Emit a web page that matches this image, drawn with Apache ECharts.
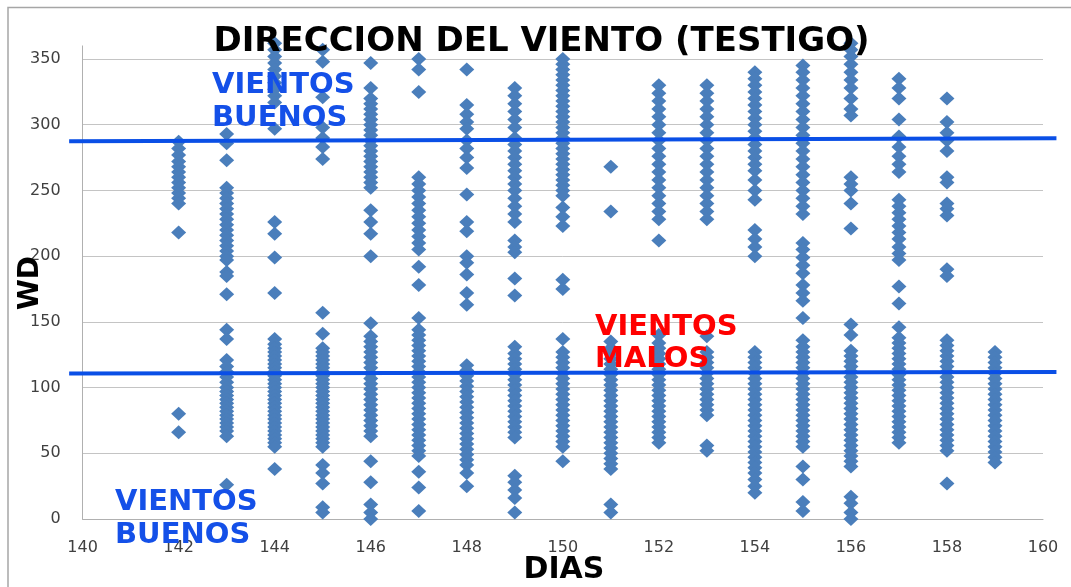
<!DOCTYPE html>
<html>
<head>
<meta charset="utf-8">
<script src="https://cdn.jsdelivr.net/npm/echarts@6/dist/echarts.min.js"></script>
<style>
html,body{margin:0;padding:0;background:#fff;}
#c{width:1071px;height:587px;}
</style>
</head>
<body>
<div id="c"></div>
<script>
// ---- Data ----
const days = [142,143,144,145,146,147,148,149,150,151,152,153,154,155,156,157,158,159];
const d142 = [287,282,277,272,268,264,260,256,252,248,244,240,218,80,66];
const d143 = [293,286,273,252,248,244,240,236,232,228,224,220,216,212,208,204,200,197,188,185,171,144,137,121,116,112,108,104,100,97,94,91,88,85,82,79,76,73,70,67,63,26];
const d144 = [362,357,352,347,342,337,332,327,322,317,297,226,217,199,172,137,133,130,127,124,121,118,115,112,109,106,103,100,97,94,91,88,85,82,79,76,73,70,67,64,61,58,55,38];
const d145 = [357,348,321,298,290,283,274,157,141,130,127,124,121,118,115,112,109,106,103,100,97,94,91,88,85,82,79,76,73,70,67,64,61,58,55,41,35,27,9,5];
const d146 = [347,328,320,316,312,308,304,300,296,292,288,284,280,276,272,268,264,260,256,252,235,226,217,200,149,139,135,131,127,123,119,115,111,107,103,99,95,91,87,83,79,75,71,67,63,44,28,11,5,0];
const d147 = [350,342,325,260,255,250,245,240,235,230,225,220,215,210,205,192,178,153,144,140,136,132,128,124,120,116,112,108,104,100,96,92,88,84,80,76,72,68,64,60,56,52,48,36,24,6];
const d148 = [342,315,308,302,297,288,282,275,267,247,226,219,200,195,186,172,163,117,113,109,105,101,97,93,89,85,81,77,73,69,65,61,57,53,49,45,41,35,25];
const d149 = [328,322,316,310,304,298,290,285,280,275,270,265,260,255,250,244,238,232,226,212,207,203,183,170,131,126,122,118,114,110,106,102,98,94,90,86,82,78,74,70,66,62,33,28,22,16,5];
const d150 = [350,346,342,338,334,330,326,322,318,314,310,306,302,298,294,290,286,282,278,274,270,266,262,258,254,250,246,237,230,223,182,175,137,127,123,119,115,111,107,103,99,95,91,87,83,79,75,71,67,63,59,55,44];
const d151 = [268,234,135,130,126,122,118,114,110,106,102,98,94,90,86,82,78,74,70,66,62,58,54,50,46,42,38,11,5];
const d152 = [330,324,318,312,306,300,294,288,282,276,270,264,258,252,246,240,234,228,212,140,134,130,126,122,118,114,110,106,102,98,94,90,86,82,78,74,70,66,62,58];
const d153 = [330,324,318,312,306,300,294,288,282,276,270,264,258,252,246,240,234,228,139,127,123,119,115,111,107,103,99,95,91,87,83,79,56,52];
const d154 = [340,335,330,325,320,315,310,305,300,295,290,285,280,275,270,265,258,250,243,220,213,207,200,127,123,119,115,111,107,103,99,95,91,87,83,79,75,71,67,63,59,55,51,47,43,39,35,30,25,20];
const d155 = [345,340,334,328,322,316,310,304,298,292,286,280,274,268,262,256,250,244,238,232,210,205,199,193,187,178,172,166,153,136,131,127,123,119,115,111,107,103,99,95,91,87,83,79,75,71,67,63,59,55,40,30,13,6];
const d156 = [362,357,352,346,340,334,328,320,312,307,260,255,250,240,221,148,140,128,124,120,116,112,108,104,100,96,92,88,84,80,76,72,68,64,60,56,52,48,44,40,17,12,5,0];
const d157 = [335,328,320,304,291,283,276,270,264,243,238,233,228,223,218,213,207,202,197,177,164,146,138,134,130,126,122,118,114,110,106,102,98,94,90,86,82,78,74,70,66,62,58];
const d158 = [320,302,294,288,280,260,256,240,236,231,190,185,136,132,128,124,120,116,112,108,104,100,96,92,88,84,80,76,72,68,64,60,56,52,27];
const d159 = [127,123,119,115,111,107,103,99,95,91,87,83,79,75,71,67,63,59,55,51,47,43];
const dayValues = [d142,d143,d144,d145,d146,d147,d148,d149,d150,d151,d152,d153,d154,d155,d156,d157,d158,d159];

const upperLine = [[139.72, 287.4], [160.28, 289.7]];
const lowerLine = [[139.72, 110.8], [160.28, 111.9]];

const xTicks = {min: 140, max: 160, interval: 2};
const yTicks = {min: 0, max: 360, interval: 50};

const titleText = 'DIRECCION DEL VIENTO (TESTIGO)';
const xName = 'DIAS';
const yName = 'WD';
const goodText = 'VIENTOS\nBUENOS';
const badText = 'VIENTOS\nMALOS';

// ---- Build scatter data ----
const points = [];
days.forEach((d, i) => dayValues[i].forEach(v => points.push([d, v])));

const chart = echarts.init(document.getElementById('c'), null, {renderer: 'canvas'});
const blue = '#0a4fe6';
const txtBlue = '#1450e8';

function lineSeries(pts) {
  return {
    type: 'custom', data: pts, clip: false, z: 5, silent: true,
    renderItem: function (params, api) {
      if (params.dataIndex !== 0) return null;
      const coords = pts.map(p => api.coord(p));
      return {
        type: 'polyline',
        shape: {points: coords},
        style: {stroke: blue, lineWidth: 4, fill: null}
      };
    }
  };
}

chart.setOption({
  animation: false,
  backgroundColor: '#ffffff',
  grid: {left: 82.6, right: 28, top: 45.9, bottom: 68, containLabel: false},
  xAxis: {
    type: 'value', min: xTicks.min, max: xTicks.max, interval: xTicks.interval,
    axisLine: {show: true, lineStyle: {color: '#b0b0b0', width: 1}},
    axisTick: {show: false},
    splitLine: {show: false},
    axisLabel: {color: '#404040', fontFamily: 'DejaVu Sans', fontSize: 16, margin: 21}
  },
  yAxis: {
    type: 'value', min: yTicks.min, max: yTicks.max, interval: yTicks.interval,
    axisLine: {show: true, lineStyle: {color: '#b0b0b0', width: 1}},
    axisTick: {show: false},
    splitLine: {show: true, showMaxLine: false, lineStyle: {color: '#c4c4c4', width: 1}},
    axisLabel: {color: '#404040', fontFamily: 'DejaVu Sans', fontSize: 16, margin: 22, showMaxLabel: false}
  },
  series: [
    {
      type: 'scatter', data: points, symbol: 'diamond', symbolSize: [15, 14],
      itemStyle: {color: '#4a7ebb', opacity: 1}, clip: false, z: 2
    },
    lineSeries(upperLine),
    lineSeries(lowerLine)
  ],
  graphic: [
    {type: 'rect', shape: {x: 8, y: 7.5, width: 1100, height: 600}, style: {fill: 'none', stroke: '#a6a6a6', lineWidth: 1.5}, z: 0, silent: true},
    {type: 'text', x: 541.5, y: 42, z: 10, style: {text: titleText, fill: '#000', font: 'bold 34px "DejaVu Sans"', textAlign: 'center', textVerticalAlign: 'middle'}},
    {type: 'text', x: 564, y: 570, z: 10, style: {text: xName, fill: '#000', font: 'bold 30px "DejaVu Sans"', textAlign: 'center', textVerticalAlign: 'middle'}},
    {type: 'text', x: 31, y: 283, rotation: Math.PI / 2, z: 10, style: {text: yName, fill: '#000', font: 'bold 28px "DejaVu Sans"', textAlign: 'center', textVerticalAlign: 'middle'}},
    {type: 'text', x: 212, y: 102, z: 10, style: {text: goodText, fill: txtBlue, font: 'bold 29px "DejaVu Sans"', lineHeight: 33, textAlign: 'left', textVerticalAlign: 'middle'}},
    {type: 'text', x: 115, y: 519, z: 10, style: {text: goodText, fill: txtBlue, font: 'bold 29px "DejaVu Sans"', lineHeight: 33, textAlign: 'left', textVerticalAlign: 'middle'}},
    {type: 'text', x: 595, y: 343, z: 10, style: {text: badText, fill: '#ff0000', font: 'bold 29px "DejaVu Sans"', lineHeight: 32, textAlign: 'left', textVerticalAlign: 'middle'}}
  ]
});
</script>
</body>
</html>
